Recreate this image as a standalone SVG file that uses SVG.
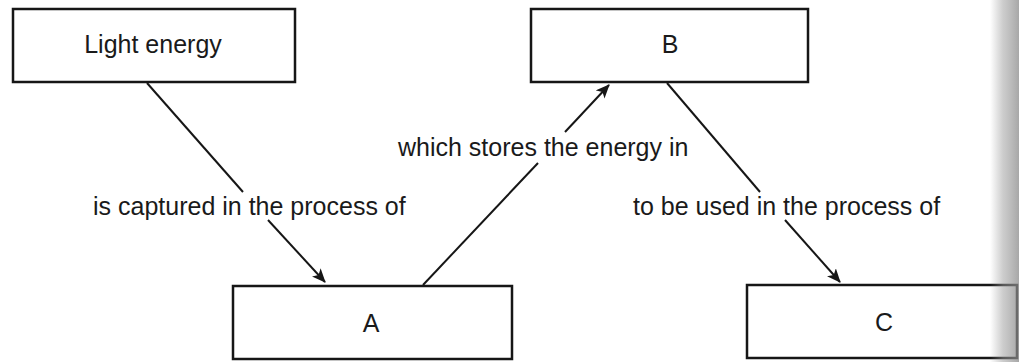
<svg xmlns="http://www.w3.org/2000/svg" width="1019" height="362" viewBox="0 0 1019 362">
  <style>
    .box { fill: #ffffff; stroke: #161616; stroke-width: 2.5; }
    .lbl { font-family: "Liberation Sans", Arial, sans-serif; font-size: 25px; fill: #1a1a1a; }
    .node { font-family: "Liberation Sans", Arial, sans-serif; font-size: 25px; fill: #1a1a1a; text-anchor: middle; }
    .conn { stroke: #161616; stroke-width: 2; fill: none; }
  </style>
  <defs>
    <marker id="arrow" viewBox="0 0 14 12" refX="13" refY="6" markerWidth="14" markerHeight="12" markerUnits="userSpaceOnUse" orient="auto">
      <path d="M0,0 L14,6 L0,12 L3.5,6 Z" fill="#161616"/>
    </marker>
    <linearGradient id="edge" x1="0" y1="0" x2="1" y2="0">
      <stop offset="0" stop-color="#9a9a9a" stop-opacity="0"/>
      <stop offset="0.45" stop-color="#9a9a9a" stop-opacity="0.5"/>
      <stop offset="1" stop-color="#8a8a8a" stop-opacity="0.75"/>
    </linearGradient>
  </defs>
  <rect width="1019" height="362" fill="#ffffff"/>

  <g id="node-light-energy">
    <rect class="box" x="13" y="9" width="282" height="73"/>
    <text class="node" x="153" y="53">Light energy</text>
  </g>
  <g id="node-b">
    <rect class="box" x="531" y="9" width="277" height="73"/>
    <text class="node" x="670" y="53">B</text>
  </g>
  <g id="node-a">
    <rect class="box" x="233" y="286" width="279" height="73"/>
    <text class="node" x="371" y="332">A</text>
  </g>
  <g id="node-c">
    <rect class="box" x="747" y="285" width="270" height="73"/>
    <text class="node" x="884" y="331">C</text>
  </g>

  <g id="connectors">
    <line class="conn" x1="147" y1="83" x2="243" y2="192"/>
    <line class="conn" x1="268" y1="220" x2="325" y2="282" marker-end="url(#arrow)"/>
    <line class="conn" x1="423" y1="285" x2="538" y2="163"/>
    <line class="conn" x1="565" y1="132" x2="609" y2="85" marker-end="url(#arrow)"/>
    <line class="conn" x1="667" y1="83" x2="760" y2="192"/>
    <line class="conn" x1="785" y1="220" x2="840" y2="282" marker-end="url(#arrow)"/>
  </g>

  <g id="labels">
    <text class="lbl" x="93" y="215">is captured in the process of</text>
    <text class="lbl" x="398" y="156">which stores the energy in</text>
    <text class="lbl" x="633" y="215">to be used in the process of</text>
  </g>

  <rect x="990" y="0" width="29" height="362" fill="url(#edge)"/>
</svg>
